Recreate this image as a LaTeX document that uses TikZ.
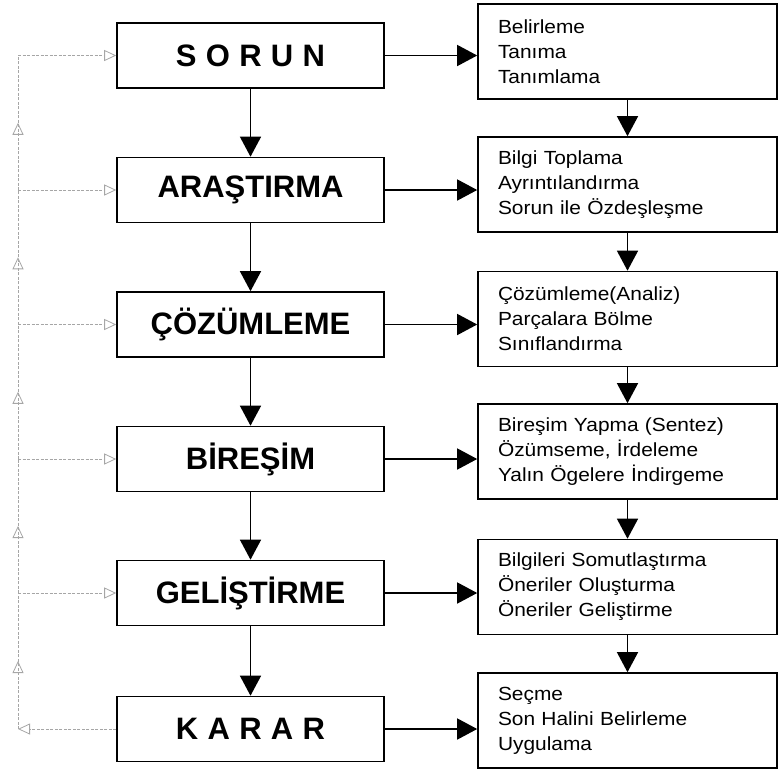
\documentclass[tikz,border=0pt]{standalone}
\usepackage{fontspec}
\setmainfont{Liberation Sans}
\newfontfamily\detailfont[FakeStretch=1.1]{Liberation Sans}
\usepackage{tikz}
\usetikzlibrary{
    arrows.meta,
    decorations.markings,
    positioning
}

\tikzset{
    stage/.style={draw, line width=1.6pt, minimum width=267pt, minimum height=65pt,
        font=\fontsize{31}{34}\selectfont\bfseries},
    detail/.style={draw, line width=1.6pt, minimum width=299pt, minimum height=95pt,
        text width=259pt, inner xsep=20pt, align=left,
        font=\detailfont\fontsize{19}{25}\selectfont},
    flow/.style={line width=1.4pt, -{Triangle[length=20pt,width=21pt]}},
    feedback/.style={gray!70, line width=0.8pt, dash pattern=on 3pt off 1.5pt},
    fbtip/.style={-{Triangle[open,length=12pt,width=11pt]}},
    midtip/.style={postaction={decorate}, decoration={markings,
        mark=at position 0.5 with {\arrow{Triangle[open,length=12pt,width=11pt]}}}}
}

\newcommand{\spread}[1]{{\addfontfeature{LetterSpace=30}#1}}

\begin{document}
\begin{tikzpicture}[x=1pt, y=-1pt]
    \useasboundingbox (0,0) rectangle (780,772);

    % stages
    \node[stage] (sorun) at (250.5, 55.5) {\spread{SORUN}};
    \node[stage] (arastirma) at (250.5, 190) {ARAŞTIRMA};
    \node[stage] (cozumleme) at (250.5, 324.5) {ÇÖZÜMLEME};
    \node[stage] (biresim) at (250.5, 459) {BİREŞİM};
    \node[stage] (gelistirme) at (250.5, 593) {GELİŞTİRME};
    \node[stage] (karar) at (250.5, 729) {\spread{KARAR}};

    % details
    \node[detail] (d1) at (627.5, 51.5) {Belirleme\\Tanıma\\Tanımlama};
    \node[detail] (d2) at (627.5, 184.5) {Bilgi Toplama\\Ayrıntılandırma\\Sorun ile Özdeşleşme};
    \node[detail] (d3) at (627.5, 319) {Çözümleme(Analiz)\\Parçalara Bölme\\Sınıflandırma};
    \node[detail] (d4) at (627.5, 451.5) {Bireşim Yapma (Sentez)\\Özümseme, İrdeleme\\Yalın Ögelere İndirgeme};
    \node[detail] (d5) at (627.5, 587) {Bilgileri Somutlaştırma\\Öneriler Oluşturma\\Öneriler Geliştirme};
    \node[detail] (d6) at (627.5, 720.5) {Seçme\\Son Halini Belirleme\\Uygulama};

    \draw
    (sorun) edge[flow] (arastirma)
    (arastirma) edge[flow] (cozumleme)
    (cozumleme) edge[flow] (biresim)
    (biresim) edge[flow] (gelistirme)
    (gelistirme) edge[flow] (karar)
    (d1) edge[flow] (d2)
    (d2) edge[flow] (d3)
    (d3) edge[flow] (d4)
    (d4) edge[flow] (d5)
    (d5) edge[flow] (d6);

    \draw
    (sorun) edge[flow] (sorun -| d1.west)
    (arastirma) edge[flow] (arastirma -| d2.west)
    (cozumleme) edge[flow] (cozumleme -| d3.west)
    (biresim) edge[flow] (biresim -| d4.west)
    (gelistirme) edge[flow] (gelistirme -| d5.west)
    (karar) edge[flow] (karar -| d6.west);

    % feedback loop
    \coordinate (fb1) at (18, 55.5);
    \coordinate (fb2) at (18, 190);
    \coordinate (fb3) at (18, 324.5);
    \coordinate (fb4) at (18, 459);
    \coordinate (fb5) at (18, 593);
    \coordinate (fb6) at (18, 729);

    \draw[feedback, fbtip] (karar) -- (fb6);
    \draw[feedback, midtip] (fb6) -- (fb5);
    \draw[feedback, midtip] (fb5) -- (fb4);
    \draw[feedback, midtip] (fb4) -- (fb3);
    \draw[feedback, midtip] (fb3) -- (fb2);
    \draw[feedback, midtip] (fb2) -- (fb1);

    \draw
    (fb1) edge[feedback, fbtip] (sorun)
    (fb2) edge[feedback, fbtip] (arastirma)
    (fb3) edge[feedback, fbtip] (cozumleme)
    (fb4) edge[feedback, fbtip] (biresim)
    (fb5) edge[feedback, fbtip] (gelistirme);
\end{tikzpicture}
\end{document}
